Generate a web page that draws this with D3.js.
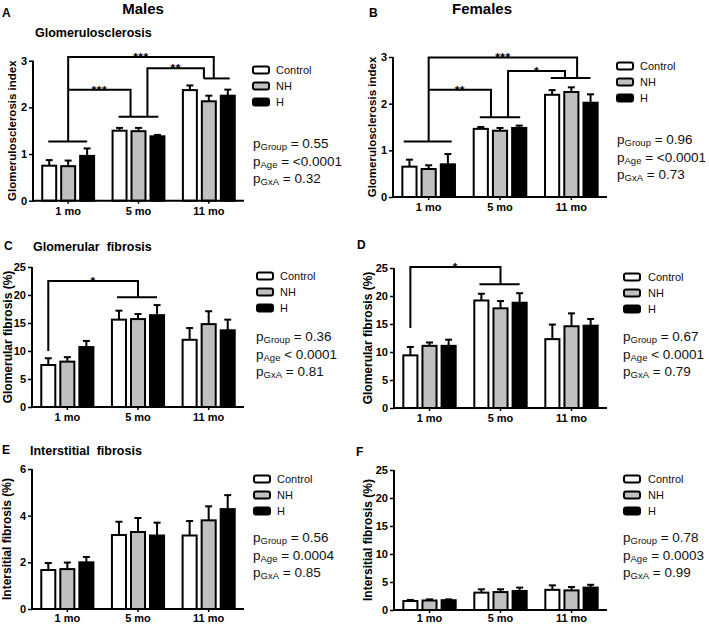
<!DOCTYPE html>
<html><head><meta charset="utf-8">
<script src="https://cdn.jsdelivr.net/npm/d3@7"></script>
<style>
body{margin:0;background:#fff}
svg{display:block;font-family:Arial,"Liberation Sans",Helvetica,sans-serif}
</style>
</head><body>
<svg id="c" width="709" height="625"></svg>
<script>
// ---------- data ----------
const ages = ["1 mo", "5 mo", "11 mo"];
const groups = ["Control", "NH", "H"];
const groupFill = ["#ffffff", "#c0c0c0", "#000000"];

// means / SEM, indexed [age][group]
const aMean = [[0.75, 0.74, 0.96], [1.50, 1.49, 1.38], [2.37, 2.13, 2.25]];
const aErr  = [[0.12, 0.12, 0.16], [0.06, 0.07, 0.03], [0.10, 0.12, 0.13]];
const bMean = [[0.65, 0.60, 0.70], [1.46, 1.42, 1.48], [2.19, 2.25, 2.02]];
const bErr  = [[0.15, 0.08, 0.22], [0.04, 0.06, 0.05], [0.10, 0.10, 0.18]];
const cMean = [[7.5, 8.1, 10.7], [15.6, 15.7, 16.4], [12.0, 14.8, 13.7]];
const cErr  = [[1.2, 0.8, 1.1], [1.6, 0.9, 1.8], [2.1, 2.3, 1.9]];
const dMean = [[9.4, 11.1, 11.1], [19.2, 17.8, 18.8], [12.3, 14.6, 14.7]];
const dErr  = [[1.5, 0.6, 1.1], [1.2, 1.3, 1.7], [2.6, 2.3, 1.2]];
const eMean = [[1.67, 1.71, 2.00], [3.17, 3.30, 3.15], [3.15, 3.80, 4.28]];
const eErr  = [[0.30, 0.28, 0.23], [0.57, 0.60, 0.55], [0.62, 0.60, 0.60]];
const fMean = [[1.6, 1.7, 1.75], [3.1, 3.2, 3.4], [3.6, 3.5, 4.0]];
const fErr  = [[0.2, 0.2, 0.15], [0.6, 0.5, 0.6], [0.8, 0.6, 0.5]];

const ticks3 = [0, 1, 2, 3];
const ticks25 = [0, 5, 10, 15, 20, 25];
const ticks6 = [0, 2, 4, 6];

const pGroup = ["0.55", "0.96", "0.36", "0.67", "0.56", "0.78"];
const pAge   = ["= <0.0001", "= <0.0001", "< 0.0001", "< 0.0001", "= 0.0004", "= 0.0003"];
const pGxA   = ["0.32", "0.73", "0.81", "0.79", "0.85", "0.99"];

// significance brackets: polylines of [ageIndex, barOffset, value]
const aBrackets = [
  [[0,-1.05,1.27],[0,1.0,1.27]],
  [[0,0,1.27],[0,0,3.08],[2,0.26,3.08],[2,0.26,2.62]],
  [[0,0,2.38],[1,-0.42,2.38],[1,-0.42,1.80]],
  [[1,-1.05,1.80],[1,1.05,1.80]],
  [[1,0.47,1.80],[1,0.47,2.84],[2,-0.26,2.84],[2,-0.26,2.62]],
  [[2,-0.26,2.62],[2,1.1,2.62]]
];
const aStars = [[0,0,2,0.26,3.08,"***"],[0,0,1,-0.42,2.38,"***"],[1,0.47,2,-0.26,2.84,"**"]];
const bBrackets = [
  [[0,-1.3,1.19],[0,1.2,1.19]],
  [[0,0,1.19],[0,0,2.99],[2,0.3,2.99],[2,0.3,2.55]],
  [[0,0,2.30],[1,-0.47,2.30],[1,-0.47,1.71]],
  [[1,-1.05,1.71],[1,1.05,1.71]],
  [[1,0.42,1.71],[1,0.42,2.70],[2,-0.33,2.70],[2,-0.33,2.55]],
  [[2,-1.07,2.55],[2,1.0,2.55]]
];
const bStars = [[0,0,2,0.3,2.99,"***"],[0,0,1,-0.47,2.30,"**"],[1,0.42,2,-0.33,2.70,"*"]];
const cBrackets = [
  [[0,-1,10.0],[0,-1,22.5],[1,0,22.5],[1,0,19.6]],
  [[1,-1.1,19.6],[1,1.0,19.6]]
];
const cStars = [[0,-1,1,0,22.5,"*"]];
const dBrackets = [
  [[0,-1,14.3],[0,-1,25.2],[1,0,25.2],[1,0,22.1]],
  [[1,-1.1,22.1],[1,1.0,22.1]]
];
const dStars = [[0,-1,1,0,25.2,"*"]];

// ---------- layout ----------
const panels = [
  {mean:aMean, err:aErr, ticks:ticks3, x0:33, x1:244, yTop:60.7, yBot:200.7, title:"Glomerulosclerosis index", tX:12, tFs:11.5, br:aBrackets, st:aStars,
   leg:{bx:252, ty:70, tx:276}, p:{x:253, y:143}, pad:4},
  {mean:bMean, err:bErr, ticks:ticks3, x0:393, x1:607, yTop:57, yBot:197, title:"Glomerulosclerosis index", tX:372, tFs:11.5, br:bBrackets, st:bStars,
   leg:{bx:616, ty:66, tx:640}, p:{x:617, y:139}, pad:3},
  {mean:cMean, err:cErr, ticks:ticks25, x0:32, x1:244, yTop:267, yBot:407, title:"Glomerular fibrosis (%)", tX:8, tFs:12, br:cBrackets, st:cStars,
   leg:{bx:256, ty:276, tx:280}, p:{x:256, y:336}, pad:3},
  {mean:dMean, err:dErr, ticks:ticks25, x0:394, x1:607, yTop:268, yBot:408, title:"Glomerular fibrosis (%)", tX:368, tFs:12, br:dBrackets, st:dStars,
   leg:{bx:623, ty:277, tx:648}, p:{x:623, y:336}, pad:3},
  {mean:eMean, err:eErr, ticks:ticks6, x0:32, x1:244, yTop:469, yBot:609, title:"Intersitial fibrosis (%)", tX:7, tFs:12, br:[], st:[],
   leg:{bx:253, ty:479, tx:277}, p:{x:253, y:537}, pad:2},
  {mean:fMean, err:fErr, ticks:ticks25, x0:394, x1:607, yTop:470, yBot:610, title:"Intersitial fibrosis (%)", tX:368, tFs:12, br:[], st:[],
   leg:{bx:623, ty:479, tx:648}, p:{x:623, y:537}, pad:1}
];

const svg = d3.select("#c");

// headers
svg.append("text").attr("x",143).attr("y",14).attr("text-anchor","middle")
  .attr("font-size",15).attr("font-weight","bold").text("Males");
svg.append("text").attr("x",482).attr("y",14).attr("text-anchor","middle")
  .attr("font-size",15).attr("font-weight","bold").text("Females");

const letters = [["A",2,17],["B",369,17],["C",4,250],["D",357,249],["E",2,454],["F",356,456]];
letters.forEach(([t,x,y])=>svg.append("text").attr("x",x).attr("y",y).attr("font-size",12).attr("font-weight","bold").text(t));
const titles = [["Glomerulosclerosis",35,37],["Glomerular  fibrosis",33,251],["Interstitial  fibrosis",30,455]];
titles.forEach(([t,x,y])=>svg.append("text").attr("x",x).attr("y",y).attr("font-size",12.5).attr("font-weight","bold")
  .attr("xml:space","preserve").style("white-space","pre").text(t));

panels.forEach((P, pi) => {
  const g = svg.append("g");
  const x = d3.scaleBand().domain(ages).range([P.x0, P.x1]).padding(0);
  const xs = d3.scaleBand().domain(groups).range([0, x.bandwidth()]).paddingInner(0.263).paddingOuter(0.487);
  const y = d3.scaleLinear().domain([0, d3.max(P.ticks)]).range([P.yBot, P.yTop]);
  const bx = (ai, k) => x(ages[ai]) + x.bandwidth()/2 + k * xs.step();

  // bars
  const rows = [];
  ages.forEach((a, ai) => groups.forEach((gr, gi) => rows.push({a, gi, m:P.mean[ai][gi], e:P.err[ai][gi], gr})));
  const bg = g.append("g");
  bg.selectAll("line.err").data(rows).join("line")
    .attr("x1", d => x(d.a) + xs(d.gr) + xs.bandwidth()/2)
    .attr("x2", d => x(d.a) + xs(d.gr) + xs.bandwidth()/2)
    .attr("y1", d => y(d.m)).attr("y2", d => y(d.m + d.e))
    .attr("stroke","#000").attr("stroke-width",2);
  bg.selectAll("line.cap").data(rows).join("line")
    .attr("x1", d => x(d.a) + xs(d.gr) + xs.bandwidth()/2 - 3.5)
    .attr("x2", d => x(d.a) + xs(d.gr) + xs.bandwidth()/2 + 3.5)
    .attr("y1", d => y(d.m + d.e)).attr("y2", d => y(d.m + d.e))
    .attr("stroke","#000").attr("stroke-width",2);
  bg.selectAll("rect").data(rows).join("rect")
    .attr("x", d => x(d.a) + xs(d.gr))
    .attr("width", xs.bandwidth())
    .attr("y", d => y(d.m))
    .attr("height", d => y(0) - y(d.m))
    .attr("fill", d => groupFill[d.gi])
    .attr("stroke","#000").attr("stroke-width",2);

  // axes
  const ya = g.append("g").attr("transform",`translate(${P.x0},0)`)
    .call(d3.axisLeft(y).tickValues(P.ticks).tickFormat(d3.format("d")).tickSize(4).tickSizeOuter(0).tickPadding(2));
  const xa = g.append("g").attr("transform",`translate(0,${P.yBot})`)
    .call(d3.axisBottom(x).tickSize(3).tickSizeOuter(0).tickPadding(P.pad));
  [ya, xa].forEach(a => {
    a.select(".domain").attr("stroke","#000").attr("stroke-width",2);
    a.selectAll(".tick line").attr("stroke","#000").attr("stroke-width",1.5);
    a.selectAll("text").attr("font-size",11).attr("font-weight","bold").attr("fill","#000")
      .attr("font-family","Arial,'Liberation Sans',sans-serif");
  });
  xa.select(".domain").attr("d", `M${P.x0 - 1},0H${P.x1}`);
  ya.select(".domain").attr("d", `M0,${P.yBot + 1}V${P.yTop}`);

  // y title
  g.append("text")
    .attr("transform", `translate(${P.tX},${(P.yTop + P.yBot)/2}) rotate(-90)`)
    .attr("text-anchor","middle").attr("dominant-baseline","central")
    .attr("font-size",P.tFs).attr("font-weight","bold").text(P.title);

  // brackets
  const line = d3.line().x(d => bx(d[0], d[1])).y(d => y(d[2]));
  g.selectAll("path.br").data(P.br).join("path").attr("class","br")
    .attr("d", line).attr("fill","none").attr("stroke","#000").attr("stroke-width",2);
  g.selectAll("text.st").data(P.st).join("text").attr("class","st")
    .attr("x", d => (bx(d[0], d[1]) + bx(d[2], d[3]))/2)
    .attr("y", d => y(d[4]) + 5)
    .attr("text-anchor","middle").attr("font-size",12).attr("font-weight","bold")
    .attr("letter-spacing",0.5).text(d => d[5]);

  // legend
  const L = g.append("g");
  groups.forEach((gr, gi) => {
    const cy = P.leg.ty + gi * 16;
    L.append("rect").attr("x", P.leg.bx + 1).attr("y", cy - 3.5).attr("width", 16).attr("height", 7)
      .attr("rx", 2).attr("fill", groupFill[gi]).attr("stroke","#000").attr("stroke-width",2);
    L.append("text").attr("x", P.leg.tx).attr("y", cy + 4).attr("font-size",11).attr("fill","#111").text(gr);
  });

  // p values
  const pl = [["Group", "= " + pGroup[pi]], ["Age", pAge[pi]], ["GxA", "= " + pGxA[pi]]];
  pl.forEach(([sub, rest], li) => {
    const t = g.append("text").attr("x", P.p.x).attr("y", P.p.y + li * 17.5 + 5).attr("font-size",13.5).attr("fill","#111");
    t.append("tspan").text("p");
    t.append("tspan").attr("font-size",9.5).attr("dy",2).text(sub);
    t.append("tspan").attr("dy",-2).text(" " + rest);
  });
});
</script>
</body></html>
